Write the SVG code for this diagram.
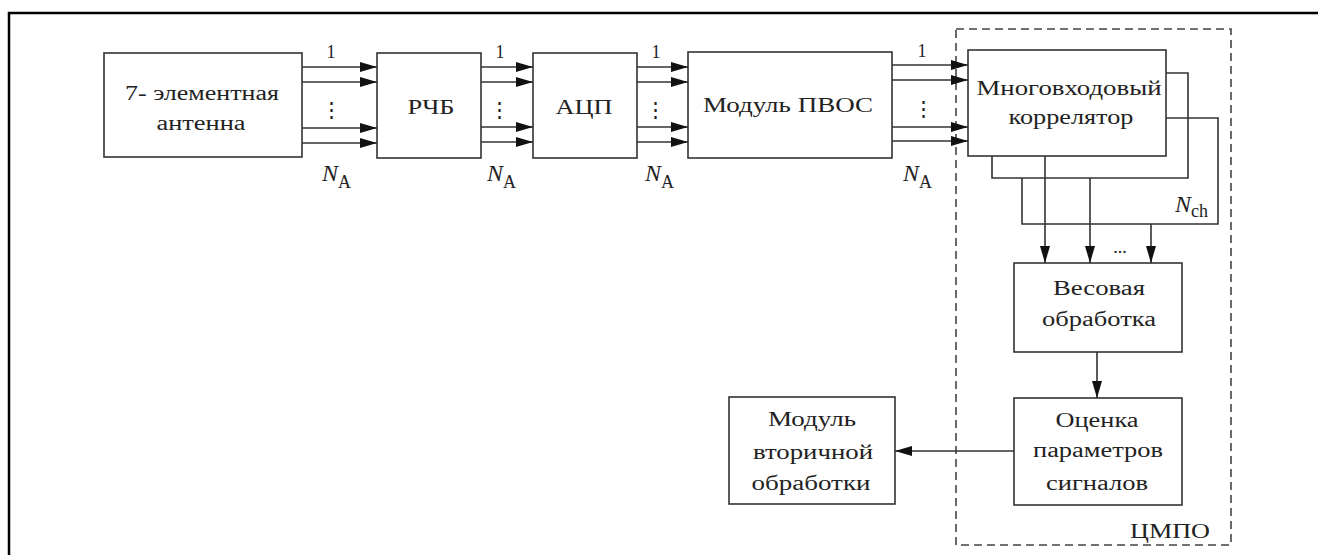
<svg xmlns="http://www.w3.org/2000/svg" width="1318" height="555" viewBox="0 0 1318 555">
<style>
.box{fill:#fff;stroke:#333;stroke-width:1.6}
.ln{fill:none;stroke:#333;stroke-width:1.6}
.ar{fill:none;stroke:#333;stroke-width:1.6;marker-end:url(#ah)}
.t{font-family:"Liberation Serif","DejaVu Serif",serif;font-size:20px;fill:#222;text-anchor:middle}
.s{font-family:"Liberation Serif","DejaVu Serif",serif;font-size:18px;fill:#222;text-anchor:middle}
.n{font-family:"Liberation Serif","DejaVu Serif",serif;font-size:24px;fill:#222;font-style:italic}
.sub{font-size:18px;font-style:normal}
.d{font-family:"DejaVu Serif","Liberation Serif",serif;font-size:21px;fill:#222;text-anchor:middle}
</style>
<defs>
<marker id="ah" viewBox="0 0 17 10" refX="17" refY="5" markerWidth="17" markerHeight="10" markerUnits="userSpaceOnUse" orient="auto">
<path d="M0,0 L17,5 L0,10 Z" fill="#111"/>
</marker>
</defs>
<rect width="1318" height="555" fill="#fff"/>
<path d="M9,555 V13 H1318" fill="none" stroke="#000" stroke-width="2.5"/>
<rect x="956" y="29" width="275" height="516" fill="none" stroke="#444" stroke-width="1.6" stroke-dasharray="8 5"/>
<text class="t" x="1170" y="538" textLength="80" lengthAdjust="spacingAndGlyphs">ЦМПО</text>

<g id="antenna"><rect class="box" x="104" y="53" width="198" height="104"/><text class="t" x="202" y="100" textLength="154" lengthAdjust="spacingAndGlyphs">7- элементная</text><text class="t" x="201" y="130" textLength="89" lengthAdjust="spacingAndGlyphs">антенна</text></g>
<g id="rchb"><rect class="box" x="377" y="53" width="104" height="105"/><text class="t" x="431" y="114" textLength="47" lengthAdjust="spacingAndGlyphs">РЧБ</text></g>
<g id="acp"><rect class="box" x="533" y="53" width="104" height="105"/><text class="t" x="584" y="114" textLength="57" lengthAdjust="spacingAndGlyphs">АЦП</text></g>
<g id="pvos"><rect class="box" x="688" y="52" width="204" height="106"/><text class="t" x="788" y="112" textLength="170" lengthAdjust="spacingAndGlyphs">Модуль ПВОС</text></g>
<g id="correlator">
<path class="ln" d="M1166,118 H1218 V224 H1022 V178"/>
<path class="ln" d="M1166,73 H1188 V178 H992 V156"/>
<rect class="box" x="968" y="50" width="198" height="106"/>
<text class="t" x="1069" y="95" textLength="185" lengthAdjust="spacingAndGlyphs">Многовходовый</text><text class="t" x="1071" y="124" textLength="125" lengthAdjust="spacingAndGlyphs">коррелятор</text>
<text class="n" x="1175" y="212">N<tspan class="sub" dy="5">ch</tspan></text>
</g>
<g id="weights"><rect class="box" x="1014" y="263" width="168" height="89"/><text class="t" x="1099" y="295" textLength="92" lengthAdjust="spacingAndGlyphs">Весовая</text><text class="t" x="1099" y="326" textLength="114" lengthAdjust="spacingAndGlyphs">обработка</text></g>
<g id="estimate"><rect class="box" x="1014" y="398" width="168" height="107"/><text class="t" x="1097" y="427" textLength="83" lengthAdjust="spacingAndGlyphs">Оценка</text><text class="t" x="1098" y="457" textLength="130" lengthAdjust="spacingAndGlyphs">параметров</text><text class="t" x="1097" y="490" textLength="102" lengthAdjust="spacingAndGlyphs">сигналов</text></g>
<g id="secondary"><rect class="box" x="729" y="397" width="166" height="107"/><text class="t" x="812" y="426" textLength="88" lengthAdjust="spacingAndGlyphs">Модуль</text><text class="t" x="813" y="459" textLength="120" lengthAdjust="spacingAndGlyphs">вторичной</text><text class="t" x="811" y="490" textLength="119" lengthAdjust="spacingAndGlyphs">обработки</text></g>

<g id="connectors">
<path class="ar" d="M302,67 H377"/><path class="ar" d="M302,82 H377"/><path class="ar" d="M302,128 H377"/><path class="ar" d="M302,143 H377"/>
<path class="ar" d="M481,67 H533"/><path class="ar" d="M481,82 H533"/><path class="ar" d="M481,127 H533"/><path class="ar" d="M481,142 H533"/>
<path class="ar" d="M637,67 H688"/><path class="ar" d="M637,82 H688"/><path class="ar" d="M637,127 H688"/><path class="ar" d="M637,142 H688"/>
<path class="ar" d="M892,65 H968"/><path class="ar" d="M892,80 H968"/><path class="ar" d="M892,127 H968"/><path class="ar" d="M892,141 H968"/>
<path class="ar" d="M1045,156 V263"/><path class="ar" d="M1090,178 V263"/><path class="ar" d="M1151,224 V263"/>
<path class="ar" d="M1097,352 V398"/>
<path class="ar" d="M1014,451 H895"/>
</g>
<g id="labels">
<text class="s" x="331" y="58">1</text><text class="s" x="500" y="58">1</text><text class="s" x="656" y="58">1</text><text class="s" x="922" y="57">1</text>
<text class="d" x="331" y="117">⋮</text><text class="d" x="499" y="117">⋮</text><text class="d" x="655" y="117">⋮</text><text class="d" x="923" y="116">⋮</text>
<text class="s" x="1120" y="253">...</text>
<text class="n" x="322" y="181">N<tspan class="sub" dy="7">A</tspan></text>
<text class="n" x="487" y="181">N<tspan class="sub" dy="7">A</tspan></text>
<text class="n" x="645" y="181">N<tspan class="sub" dy="7">A</tspan></text>
<text class="n" x="903" y="181">N<tspan class="sub" dy="7">A</tspan></text>
</g>
</svg>
